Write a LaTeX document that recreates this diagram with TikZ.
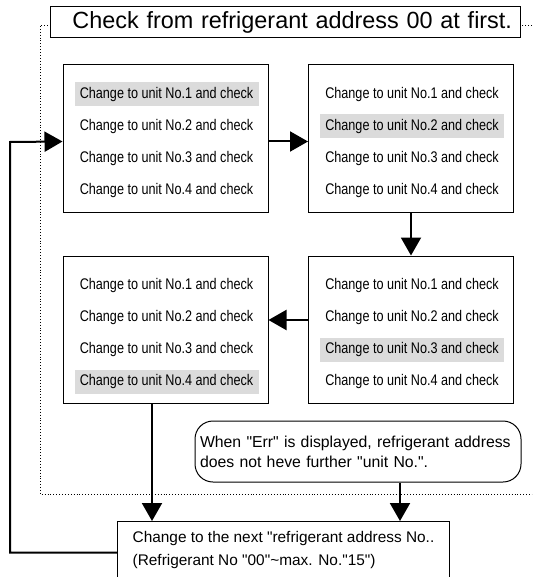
\documentclass[tikz,border=0pt]{standalone}
\usepackage{fontspec}
\setmainfont{Liberation Sans}
\newfontfamily\narrowfont[FakeStretch=0.82]{Liberation Sans}
\usetikzlibrary{positioning,arrows.meta}
\newcommand\qt{\textquotedbl}
\begin{document}
\begin{tikzpicture}[x=1pt,y=-1pt]
    \tikzset{
        unitbox/.style={draw,line width=1pt,fill=white,minimum width=205pt,minimum height=147pt,inner sep=0pt},
        unitrow/.style={inner sep=0pt,minimum width=184pt,minimum height=24pt,font=\narrowfont\fontsize{15.4}{18}\selectfont},
        flow/.style={line width=2pt,-{Triangle[length=18pt,width=20pt]}},
        notebox/.style={draw,line width=1pt,rounded corners=18pt,align=left,text width=316pt,inner xsep=5pt,inner ysep=0pt,minimum height=61pt,font=\fontsize{15.8}{20}\selectfont},
        nextbox/.style={draw,line width=1pt,anchor=north west,align=left,minimum width=332pt,inner xsep=0pt,inner ysep=10pt,text depth=14pt,font=\fontsize{15.4}{23}\selectfont},
    }
    \useasboundingbox (0,0) rectangle (532,577);
    \clip (0,0) rectangle (532,577);
    \draw[dotted,line width=0.9pt] (532,25) -- (40,25) -- (40,494) -- (532,494);
    \node[draw,fill=white,line width=1pt,text width=454pt,align=right,inner xsep=8pt,inner ysep=0pt,minimum height=31pt,font=\fontsize{23.4}{26}\selectfont] (title) at (285,22.5) {Check from refrigerant address 00 at first.};
    \node[unitbox] (b1) at (165.5,138.5) {};
    \node[unitbox] (b2) at (411,138.5) {};
    \node[unitbox] (b3) at (411,329.5) {};
    \node[unitbox] (b4) at (165.5,329.5) {};
    \foreach \bx/\hl in {b1/1,b2/2,b3/3,b4/4}
        \foreach \i in {1,...,4}{
            \pgfmathtruncatemacro\shade{ifthenelse(\i==\hl,14,0)}
            \node[unitrow,fill=black!\shade] (\bx-\i) at ([xshift=1pt,yshift=-30pt-32pt*(\i-1)]\bx.north) {Change to unit No.\i\ and check};
        }
    \node[notebox] (note) at (358,451.5) {When \qt Err\qt{} is displayed, refrigerant address\\does not heve further \qt unit No.\qt.};
    \node[nextbox] (next) at (117,521) {Change to the next \qt refrigerant address No..\\(Refrigerant No \qt 00\qt\textasciitilde max. No.\qt 15\qt)};
    \coordinate (drop) at (400,0);
    \coordinate (loop) at (10,142);
    \coordinate (in1) at ([yshift=-3pt]b1.west);
    \draw[flow] ([yshift=-3pt]b1.east) -- ([yshift=-3pt]b2.west);
    \draw[flow] (b2.south) -- (b3.north);
    \draw[flow] ([yshift=9.5pt]b3.west) -- ([yshift=9.5pt]b4.east);
    \draw[flow] ([xshift=-13.5pt]b4.south) coordinate (out4) -- (out4 |- next.north);
    \draw[flow] (note.south -| drop) -- (next.north -| drop);
    \draw[flow] ([yshift=3pt]next.west) -| (loop) -- (in1);
\end{tikzpicture}
\end{document}
